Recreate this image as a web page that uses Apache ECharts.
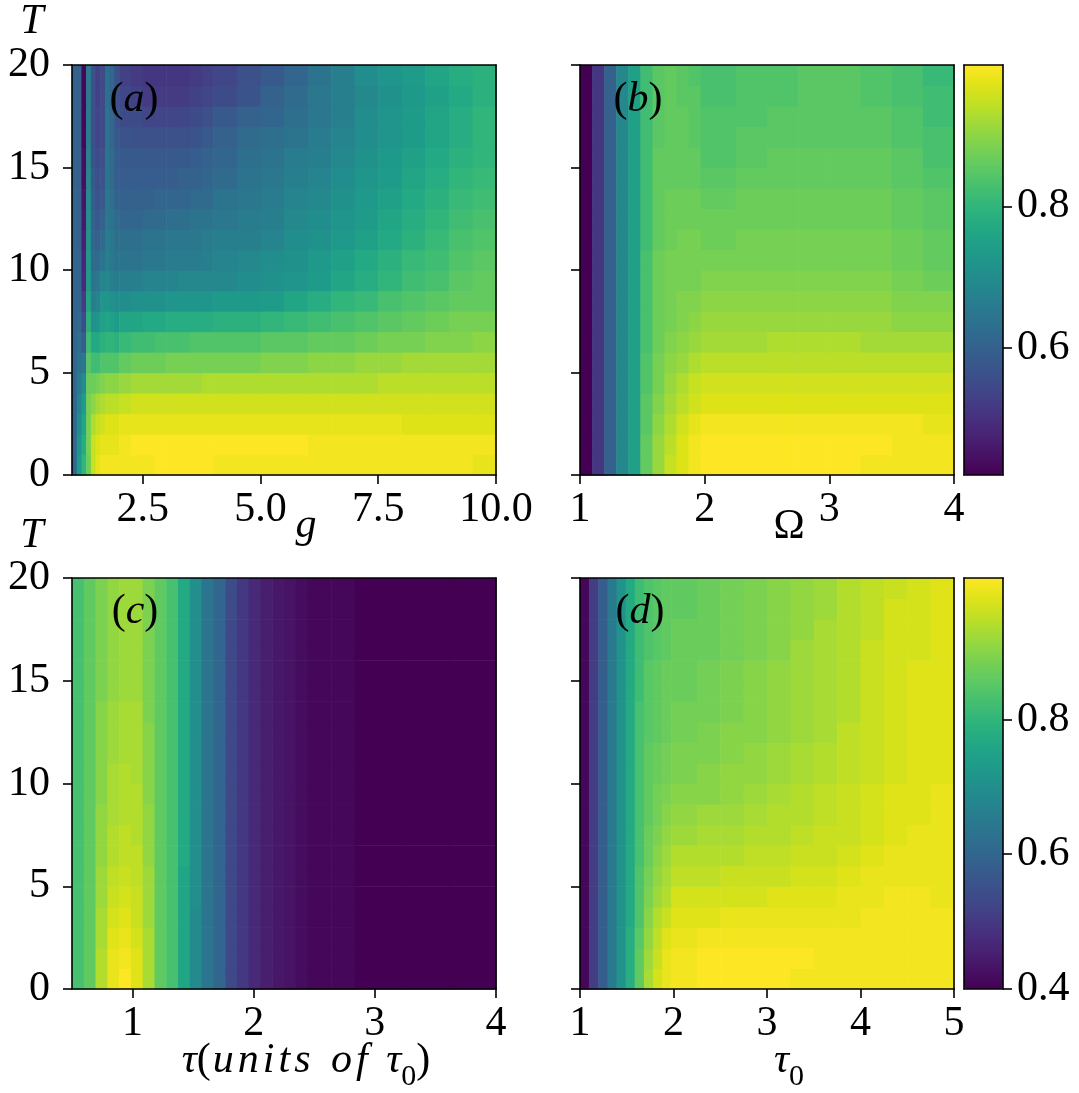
<!DOCTYPE html>
<html><head><meta charset="utf-8">
<script src="https://cdn.jsdelivr.net/npm/echarts@6/dist/echarts.min.js"></script>
<style>html,body{margin:0;padding:0;background:#fff}#c{width:1079px;height:1093px}</style>
</head><body><div id="c"></div>
<script>
// ---- data (cell values ×100, rows from T=0 upward, one row per unit of T) ----
const T_EDGES = [0,1,2,3,4,5,6,7,8,9,10,11,12,13,14,15,16,17,18,19,20];
const T_TICKS = [0,5,10,15,20];

const G_EDGES = [1,1.1,1.2,1.3,1.4,1.5,1.6,1.7,1.8,1.9,2,2.25,2.5,2.75,3,3.25,3.5,3.75,4,4.5,5,5.5,6,6.5,7,7.5,8,8.5,9,9.5,10];
const G_TICKS = [2.5,5.0,7.5,10.0];
const Z_A = [
[61,74,80,87,95,98,99,99,99,99, 99,99,99,100,100,100,100,100,99,99,99,99,99,99,99,99,99,99,99,98],
[61,72,78,88,95,97,98,98,98,98, 99,100,100,100,100,100,100,100,100,100,100,100,99,99,99,99,99,99,99,99],
[61,70,76,88,93,95,96,97,97,97, 98,98,98,98,98,98,98,98,98,98,98,98,98,98,98,98,97,97,97,97],
[61,68,74,88,90,92,93,94,94,94, 95,96,96,96,96,96,96,96,96,96,96,96,96,96,96,96,96,96,96,96],
[61,66,70,87,87,88,89,90,90,90, 91,92,92,92,92,92,92,93,93,93,93,93,93,93,93,94,94,94,94,94],
[61,64,65,85,82,82,84,84,84,84, 86,87,87,87,88,88,88,88,88,88,89,89,90,90,91,91,92,92,92,92],
[61,63,59,82,77,77,79,80,80,79, 81,82,82,83,83,83,84,84,84,84,85,85,86,86,87,88,88,89,89,90],
[61,62,55,79,71,72,75,76,75,74, 76,76,77,77,78,78,78,78,79,79,80,81,82,83,84,85,86,87,88,88],
[61,61,52,76,67,68,72,72,71,70, 70,71,71,71,72,72,72,72,73,73,74,76,78,80,81,83,84,85,86,86],
[61,61,49,74,64,65,68,69,67,66, 67,67,68,68,68,69,69,69,69,70,71,72,74,76,78,80,82,83,85,86],
[61,61,48,73,62,62,64,67,65,64, 64,64,65,65,66,66,66,67,68,69,70,71,73,75,77,79,81,82,84,85],
[61,60,47,72,61,60,62,66,65,63, 63,63,64,64,65,65,65,66,67,67,68,70,71,73,75,77,79,81,83,84],
[61,60,46,71,60,58,60,65,64,62, 61,61,62,62,63,63,64,64,65,66,67,69,70,72,74,76,78,80,82,83],
[61,60,45,70,59,57,58,65,63,60, 60,60,60,61,61,61,62,62,64,65,66,68,69,71,73,75,77,79,81,82],
[60,60,44,69,58,56,57,64,62,59, 59,59,59,59,59,60,60,61,62,64,65,67,68,70,72,74,76,78,80,81],
[60,60,44,68,57,55,56,64,62,59, 58,58,58,58,58,58,59,60,61,63,64,66,67,69,71,73,75,77,79,80],
[60,60,43,67,56,54,55,64,61,58, 57,56,56,56,56,56,57,58,60,62,63,64,66,68,70,72,74,76,78,80],
[60,60,43,67,56,54,55,64,61,57, 55,55,54,54,54,54,55,56,58,60,61,63,65,67,70,72,74,76,78,80],
[60,60,43,66,56,53,55,63,61,56, 54,53,52,52,52,52,53,54,55,57,60,62,65,67,69,71,73,75,77,79],
[60,60,43,66,56,53,55,63,61,56, 53,52,51,51,51,51,52,53,54,56,58,61,64,67,70,72,74,76,78,79]
];

const OMEGA_EDGES = [1,1.097,1.194,1.29,1.387,1.484,1.581,1.677,1.774,1.871,1.968,2.25,2.5,2.75,3,3.25,3.5,3.75,4];
const OMEGA_TICKS = [1,2,3,4];
const Z_B = [
[42,51,60,69,75,86,91,95,97,99, 100,100,100,100,100,99,99,99],
[42,51,60,69,75,86,91,94,97,99, 100,100,100,100,100,100,99,99],
[42,51,60,69,75,85,90,93,96,98, 99,99,99,99,99,99,99,98],
[42,51,60,69,75,85,89,92,94,96, 97,97,97,97,97,97,97,97],
[42,51,60,69,75,84,88,91,93,95, 96,96,96,96,96,96,96,96],
[42,51,60,69,75,84,88,90,91,93, 94,94,94,94,94,94,94,94],
[42,51,60,69,75,83,87,89,90,91, 92,92,93,93,93,92,92,92],
[42,51,60,69,75,83,87,88,89,90, 91,91,91,91,91,91,90,90],
[42,51,60,69,75,83,87,88,89,89, 90,90,90,90,90,90,89,89],
[42,51,60,69,75,83,87,88,88,88, 89,89,89,89,89,89,88,87],
[42,51,60,69,75,83,87,88,88,88, 88,88,88,88,88,88,87,86],
[42,51,60,69,75,82,86,87,88,88, 87,88,88,88,88,88,87,86],
[42,51,60,69,75,82,86,87,87,87, 87,87,87,87,87,87,86,85],
[42,51,60,69,75,82,86,87,87,87, 86,87,87,87,87,87,86,85],
[42,51,60,69,75,82,86,86,86,86, 85,86,86,86,86,86,85,84],
[42,51,60,69,75,82,86,86,86,86, 84,85,86,86,86,86,85,83],
[42,51,60,69,75,82,85,86,86,85, 84,85,85,85,85,85,84,83],
[42,51,60,69,75,82,85,86,86,85, 84,84,85,85,85,85,84,82],
[42,51,60,69,75,82,85,86,85,85, 83,84,84,85,85,84,83,82],
[42,51,60,69,75,82,85,86,85,84, 83,84,84,85,85,84,83,81]
];

const TAU_EDGES = [0.5,0.597,0.694,0.792,0.889,0.986,1.083,1.181,1.278,1.375,1.472,1.569,1.667,1.764,1.861,1.958,2.056,2.153,2.25,2.347,2.444,2.639,2.833,3.222,3.611,4];
const TAU_TICKS = [1,2,3,4];
const Z_C = [
[83,86,94,99,101,98,93,86,83,76,69,64,60,53,50,47,45,44,43,42, 41,41,40,40,40],
[83,86,94,99,100,98,93,86,83,76,69,64,60,53,50,47,45,44,43,42, 41,41,40,40,40],
[83,86,93,98,99,97,93,86,83,76,69,64,60,53,50,47,45,44,43,42, 41,41,40,40,40],
[83,86,93,97,98,96,92,86,83,76,69,64,60,53,50,47,45,44,43,42, 41,41,40,40,40],
[83,86,92,96,97,96,92,86,83,76,70,64,60,53,50,47,45,44,43,42, 41,41,40,40,40],
[83,86,92,95,96,95,92,86,83,76,70,64,60,53,50,47,45,44,43,42, 41,41,40,40,40],
[83,86,91,94,95,95,91,86,83,77,70,64,60,53,50,47,45,44,43,42, 41,41,40,40,40],
[83,86,91,94,95,94,91,86,83,77,70,64,60,53,50,47,45,44,43,42, 41,41,40,40,40],
[83,86,91,93,94,94,91,86,83,77,70,64,60,53,50,47,45,44,43,42, 41,41,40,40,40],
[83,86,90,93,94,94,90,86,83,77,70,64,60,53,50,47,45,44,43,42, 41,41,40,40,40],
[83,86,90,93,94,93,90,86,83,77,70,64,60,53,50,47,45,44,43,42, 41,41,40,40,40],
[83,86,90,92,93,93,90,86,83,77,70,64,60,53,50,47,45,44,43,42, 41,41,40,40,40],
[83,86,90,92,93,93,90,86,83,77,70,64,60,53,50,47,45,44,43,42, 41,41,40,40,40],
[83,86,90,92,93,93,89,86,83,77,70,64,60,53,50,47,45,44,43,42, 41,41,40,40,40],
[83,86,89,91,92,92,89,86,83,77,70,64,60,53,50,47,45,44,43,42, 41,41,40,40,40],
[83,86,89,91,92,92,89,86,83,77,70,64,60,53,50,47,45,44,43,42, 41,41,40,40,40],
[83,86,89,91,92,92,89,86,83,77,70,64,60,53,50,47,45,44,43,42, 41,41,40,40,40],
[83,86,89,91,92,92,89,86,83,77,70,64,60,53,50,47,45,44,43,42, 41,41,40,40,40],
[83,86,89,91,92,92,89,86,83,77,70,64,60,54,50,47,45,44,43,42, 41,41,40,40,40],
[83,86,89,91,92,92,89,86,83,77,70,64,60,54,50,47,45,44,43,42, 41,41,40,40,40]
];

const TAU0_EDGES = [1,1.098,1.195,1.293,1.39,1.488,1.585,1.683,1.78,1.878,1.976,2.25,2.5,2.75,3,3.25,3.5,3.75,4,4.25,4.5,4.75,5];
const TAU0_TICKS = [1,2,3,4,5];
const Z_D = [
[41,51,58,65,71,78,86,93,97,99, 100,101,101,101,101,100,100,100,100,100,100,100],
[41,51,58,65,71,78,86,92,96,99, 100,101,101,101,101,101,100,100,100,100,100,100],
[41,51,58,65,71,78,85,91,95,98, 99,100,100,100,100,100,100,100,100,100,100,100],
[41,51,58,65,71,77,84,90,94,96, 98,98,99,99,99,99,99,99,100,100,100,100],
[41,51,58,65,71,77,84,89,92,94, 97,97,97,97,98,98,98,99,99,100,100,99],
[41,51,58,65,71,77,84,88,91,93, 95,95,96,96,96,97,97,98,99,99,99,99],
[41,51,58,65,71,77,83,87,90,92, 94,94,94,95,95,96,96,97,98,99,99,99],
[41,51,58,65,71,77,83,87,89,91, 92,93,93,94,94,95,96,96,97,98,99,99],
[41,51,58,65,71,77,83,86,88,90, 91,92,92,93,94,94,95,96,97,98,98,99],
[41,51,58,65,71,77,83,86,88,89, 90,90,91,92,93,94,95,96,97,98,98,99],
[41,51,58,65,71,77,83,86,87,88, 89,90,91,91,92,93,94,95,96,97,98,98],
[41,51,58,65,71,77,83,86,87,88, 89,89,90,91,92,93,94,95,96,97,98,98],
[41,51,58,65,71,77,83,85,86,87, 88,89,90,90,91,92,93,95,96,97,98,98],
[41,51,58,65,71,77,83,85,86,87, 88,88,89,90,91,92,93,94,96,97,98,98],
[41,51,58,65,71,77,82,85,86,87, 87,88,89,90,91,92,93,94,96,97,98,98],
[41,51,58,65,71,77,82,85,86,87, 87,88,89,90,91,92,93,94,96,97,98,98],
[41,51,58,65,71,77,82,84,85,86, 87,87,88,89,90,92,93,94,96,97,97,98],
[41,51,58,65,71,77,82,84,85,86, 87,87,88,89,90,91,93,94,95,97,97,98],
[41,51,58,65,71,77,82,84,85,86, 86,87,88,89,90,91,92,94,95,97,97,98],
[41,51,58,65,71,77,82,84,85,86, 86,87,88,89,90,91,92,94,95,96,97,98]
];

const CBAR_TOP_RANGE = [0.42, 1.0];
const CBAR_TOP_TICKS = [0.6, 0.8];
const CBAR_BOT_RANGE = [0.4, 1.01];
const CBAR_BOT_TICKS = [0.4, 0.6, 0.8];

// ---- styling ----
const VIRIDIS = ['#440154','#471365','#482475','#463480','#414487','#3b528b','#355f8d','#2f6c8e','#2a788e','#25848e','#21918c','#1e9c89','#22a884','#2fb47c','#44bf70','#5ec962','#7ad151','#9bd93c','#bddf26','#dfe318','#fde725'];
const FONT = '"Liberation Serif", "Times New Roman", serif';
const FS = 42;
const LW = 1.6;

function buildCells(xEdges, z) {
  const out = [];
  z.forEach((row, r) => row.forEach((v, c) => {
    out.push([xEdges[c], xEdges[c + 1], T_EDGES[r], T_EDGES[r + 1], v / 100]);
  }));
  return out;
}
function renderCell(params, api) {
  const p0 = api.coord([api.value(0), api.value(2)]);
  const p1 = api.coord([api.value(1), api.value(3)]);
  return {
    type: 'rect',
    shape: { x: p0[0], y: p1[1], width: p1[0] - p0[0] + 0.6, height: p0[1] - p1[1] + 0.6 },
    style: { fill: api.visual('color') }
  };
}
const lineStyle = { color: '#000', width: LW };
function xMain(gi, min, max, ticks, fmt) {
  return { gridIndex: gi, type: 'value', min, max, position: 'bottom', z: 10,
    axisLine: { show: true, onZero: false, lineStyle },
    axisTick: { show: true, length: 9, lineStyle, customValues: ticks },
    axisLabel: { show: true, customValues: ticks, formatter: fmt, fontFamily: FONT, fontSize: FS, color: '#000', margin: 14 },
    splitLine: { show: false } };
}
function yMain(gi, min, max, ticks, fmt, showLabels, pos, margin) {
  return { gridIndex: gi, type: 'value', min, max, position: pos || 'left', z: 10,
    axisLine: { show: true, onZero: false, lineStyle },
    axisTick: { show: true, length: 9, lineStyle, customValues: ticks },
    axisLabel: { show: showLabels, customValues: ticks, formatter: fmt, fontFamily: FONT, fontSize: FS, color: '#000', margin: margin || 22 },
    splitLine: { show: false } };
}
function frameAxis(gi, min, max, pos) {
  return { gridIndex: gi, type: 'value', min, max, position: pos, z: 10,
    axisLine: { show: true, onZero: false, lineStyle },
    axisTick: { show: false }, axisLabel: { show: false }, splitLine: { show: false } };
}
const f1 = v => v.toFixed(1);
const f0 = v => String(v);

const grids = [
  { left: 72, top: 65, width: 424, height: 410 },
  { left: 580, top: 65, width: 374, height: 410 },
  { left: 72, top: 578, width: 424, height: 411 },
  { left: 580, top: 578, width: 374, height: 411 },
  { left: 964, top: 65, width: 39, height: 410 },
  { left: 964, top: 578, width: 39, height: 411 }
];

const xAxes = [
  xMain(0, 1, 10, G_TICKS, f1), frameAxis(0, 1, 10, 'top'),
  xMain(1, 1, 4, OMEGA_TICKS, f0), frameAxis(1, 1, 4, 'top'),
  xMain(2, 0.5, 4, TAU_TICKS, f0), frameAxis(2, 0.5, 4, 'top'),
  xMain(3, 1, 5, TAU0_TICKS, f0), frameAxis(3, 1, 5, 'top'),
  frameAxis(4, 0, 1, 'bottom'), frameAxis(4, 0, 1, 'top'),
  frameAxis(5, 0, 1, 'bottom'), frameAxis(5, 0, 1, 'top')
];
const yAxes = [
  yMain(0, 0, 20, T_TICKS, f0, true), frameAxis(0, 0, 20, 'right'),
  yMain(1, 0, 20, T_TICKS, f0, false), frameAxis(1, 0, 20, 'right'),
  yMain(2, 0, 20, T_TICKS, f0, true), frameAxis(2, 0, 20, 'right'),
  yMain(3, 0, 20, T_TICKS, f0, false), frameAxis(3, 0, 20, 'right'),
  yMain(4, CBAR_TOP_RANGE[0], CBAR_TOP_RANGE[1], CBAR_TOP_TICKS, f1, true, 'right', 14), frameAxis(4, CBAR_TOP_RANGE[0], CBAR_TOP_RANGE[1], 'left'),
  yMain(5, CBAR_BOT_RANGE[0], CBAR_BOT_RANGE[1], CBAR_BOT_TICKS, f1, true, 'right', 14), frameAxis(5, CBAR_BOT_RANGE[0], CBAR_BOT_RANGE[1], 'left')
];

function heatSeries(i, edges, z) {
  return { type: 'custom', xAxisIndex: 2 * i, yAxisIndex: 2 * i, renderItem: renderCell,
    dimensions: ['x0', 'x1', 'y0', 'y1', 'v'], encode: { x: [0, 1], y: [2, 3] },
    data: buildCells(edges, z), silent: true, animation: false };
}

const txt = (x, y, text, extra) => ({ type: 'text', x, y, z: 20, silent: true,
  style: Object.assign({ text, fill: '#000', font: `${FS}px ${FONT}`, align: 'center', verticalAlign: 'middle', textAlign: 'center', textVerticalAlign: 'middle' }, extra || {}) });
const rich = {
  p: { fontFamily: FONT, fontSize: FS, color: '#000', padding: [0, 0, 10, 0] },
  i: { fontFamily: FONT, fontSize: FS, fontStyle: 'italic', color: '#000', padding: [0, 0, 10, 0] },
  w: { fontFamily: FONT, fontSize: FS, fontStyle: 'italic', color: '#000', padding: [0, 2, 10, 2] },
  sp: { fontFamily: FONT, fontSize: FS, color: '#000', padding: [0, 3, 10, 3] },
  s: { fontFamily: FONT, fontSize: 30, color: '#000', verticalAlign: 'bottom' }
};
const richL = {
  p: { fontFamily: FONT, fontSize: FS, color: '#000' },
  i: { fontFamily: FONT, fontSize: FS, fontStyle: 'italic', color: '#000' }
};

const option = {
  backgroundColor: '#fff',
  animation: false,
  grid: grids,
  xAxis: xAxes,
  yAxis: yAxes,
  visualMap: [
    { type: 'continuous', min: CBAR_TOP_RANGE[0], max: CBAR_TOP_RANGE[1], dimension: 4, seriesIndex: [0, 1],
      inRange: { color: VIRIDIS }, left: 964, top: 65, itemWidth: 39, itemHeight: 410, padding: 0,
      calculable: false, hoverLink: false, text: null, showLabel: false, orient: 'vertical' },
    { type: 'continuous', min: CBAR_BOT_RANGE[0], max: CBAR_BOT_RANGE[1], dimension: 4, seriesIndex: [2, 3],
      inRange: { color: VIRIDIS }, left: 964, top: 578, itemWidth: 39, itemHeight: 411, padding: 0,
      calculable: false, hoverLink: false, text: null, showLabel: false, orient: 'vertical' }
  ],
  series: [
    heatSeries(0, G_EDGES, Z_A),
    heatSeries(1, OMEGA_EDGES, Z_B),
    heatSeries(2, TAU_EDGES, Z_C),
    heatSeries(3, TAU0_EDGES, Z_D)
  ],
  graphic: [
    txt(32, 22, 'T', { font: `italic ${FS}px ${FONT}` }),
    txt(32, 536, 'T', { font: `italic ${FS}px ${FONT}` }),
    txt(134, 100, '{p|(}{i|a}{p|)}', { rich: richL }),
    txt(638, 100, '{p|(}{i|b}{p|)}', { rich: richL }),
    txt(135, 612, '{p|(}{i|c}{p|)}', { rich: richL }),
    txt(640, 612, '{p|(}{i|d}{p|)}', { rich: richL }),
    txt(306, 526, 'g', { font: `italic ${FS}px ${FONT}` }),
    txt(789, 527, 'Ω', {}),
    txt(306, 1066, '{i|τ}{p|(}{w|u}{w|n}{w|i}{w|t}{w|s}{sp| }{w|o}{w|f}{sp| }{i|τ}{s|0}{p|)}', { rich }),
    txt(789, 1066, '{i|τ}{s|0}', { rich })
  ]
};

const chart = echarts.init(document.getElementById('c'), null, { renderer: 'canvas' });
chart.setOption(option);
</script>
</body></html>
